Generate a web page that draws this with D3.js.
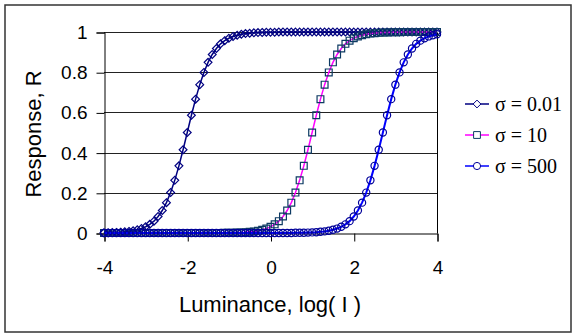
<!DOCTYPE html>
<html>
<head>
<meta charset="utf-8">
<script src="https://cdn.jsdelivr.net/npm/d3@7"></script>
<style>
	body { margin: 0; background: #fff; }
	svg { display: block; }
</style>
</head>
<body>
<div id="chart"></div>
<script>
// luminance, log(I)
var logI = [
	-4, -3.9, -3.8, -3.7, -3.6, -3.5, -3.4, -3.3, -3.2, -3.1,
	-3, -2.9, -2.8, -2.7, -2.6, -2.5, -2.4, -2.3, -2.2, -2.1,
	-2, -1.9, -1.8, -1.7, -1.6, -1.5, -1.4, -1.3, -1.2, -1.1,
	-1, -0.9, -0.8, -0.7, -0.6, -0.5, -0.4, -0.3, -0.2, -0.1,
	0, 0.1, 0.2, 0.3, 0.4, 0.5, 0.6, 0.7, 0.8, 0.9,
	1, 1.1, 1.2, 1.3, 1.4, 1.5, 1.6, 1.7, 1.8, 1.9,
	2, 2.1, 2.2, 2.3, 2.4, 2.5, 2.6, 2.7, 2.8, 2.9,
	3, 3.1, 3.2, 3.3, 3.4, 3.5, 3.6, 3.7, 3.8, 3.9,
	4
];

// response R for sigma = 0.01
var rSigma001 = [
	0.001, 0.001, 0.002, 0.003, 0.004, 0.006, 0.008, 0.011, 0.016, 0.022,
	0.031, 0.043, 0.059, 0.082, 0.112, 0.151, 0.201, 0.262, 0.334, 0.414,
	0.5, 0.586, 0.666, 0.738, 0.799, 0.849, 0.888, 0.918, 0.941, 0.957,
	0.969, 0.978, 0.984, 0.989, 0.992, 0.994, 0.996, 0.997, 0.998, 0.999,
	0.999, 0.999, 1, 1, 1, 1, 1, 1, 1, 1,
	1, 1, 1, 1, 1, 1, 1, 1, 1, 1,
	1, 1, 1, 1, 1, 1, 1, 1, 1, 1,
	1, 1, 1, 1, 1, 1, 1, 1, 1, 1,
	1
];

// response R for sigma = 10
var rSigma10 = [
	0, 0, 0, 0, 0, 0, 0, 0, 0, 0,
	0, 0, 0, 0, 0, 0, 0, 0, 0, 0,
	0, 0, 0, 0, 0, 0, 0, 0, 0, 0.001,
	0.001, 0.001, 0.002, 0.003, 0.004, 0.006, 0.008, 0.011, 0.016, 0.022,
	0.031, 0.043, 0.059, 0.082, 0.112, 0.151, 0.201, 0.262, 0.334, 0.414,
	0.5, 0.586, 0.666, 0.738, 0.799, 0.849, 0.888, 0.918, 0.941, 0.957,
	0.969, 0.978, 0.984, 0.989, 0.992, 0.994, 0.996, 0.997, 0.998, 0.999,
	0.999, 0.999, 1, 1, 1, 1, 1, 1, 1, 1,
	1
];

// response R for sigma = 500
var rSigma500 = [
	0, 0, 0, 0, 0, 0, 0, 0, 0, 0,
	0, 0, 0, 0, 0, 0, 0, 0, 0, 0,
	0, 0, 0, 0, 0, 0, 0, 0, 0, 0,
	0, 0, 0, 0, 0, 0, 0, 0, 0, 0,
	0, 0, 0, 0, 0, 0, 0.001, 0.001, 0.001, 0.002,
	0.003, 0.004, 0.006, 0.008, 0.011, 0.016, 0.022, 0.031, 0.043, 0.059,
	0.082, 0.112, 0.151, 0.201, 0.262, 0.334, 0.414, 0.5, 0.586, 0.666,
	0.738, 0.799, 0.849, 0.888, 0.918, 0.941, 0.957, 0.969, 0.978, 0.984,
	0.989
];

var seriesNames = ["\u03c3 = 0.01", "\u03c3 = 10", "\u03c3 = 500"];
var xTicks = [-4, -2, 0, 2, 4];
var yTicks = [0, 0.2, 0.4, 0.6, 0.8, 1];

var width = 574, height = 334;

var series = [
	{ name: seriesNames[0], values: rSigma001, line: "#000080", stroke: "#000080", marker: "diamond", lw: 1.5 },
	{ name: seriesNames[1], values: rSigma10, line: "#ff00ff", stroke: "#0d3a63", marker: "square", lw: 1.5 },
	{ name: seriesNames[2], values: rSigma500, line: "#0000ff", stroke: "#000099", marker: "circle", lw: 2 }
];

var x = d3.scaleLinear().domain([-4, 4]).range([104, 437]);
var y = d3.scaleLinear().domain([0, 1]).range([233, 32]);

var svg = d3.select("#chart")
  .append("svg")
    .attr("width", width)
    .attr("height", height);

// outer chart border
svg.append("rect")
    .attr("x", 5)
    .attr("y", 5)
    .attr("width", 566)
    .attr("height", 327)
    .attr("fill", "white")
    .attr("stroke", "#333")
    .attr("stroke-width", 1.5);

// gridlines
svg.append("g")
  .selectAll("line")
  .data(yTicks.slice(1))
  .join("line")
    .attr("x1", x(-4))
    .attr("x2", x(4))
    .attr("y1", function(d) { return Math.round(y(d)) + 0.5; })
    .attr("y2", function(d) { return Math.round(y(d)) + 0.5; })
    .attr("stroke", "#222")
    .attr("stroke-width", 1);

// plot area right edge
svg.append("line")
    .attr("x1", Math.round(x(4)) + 0.5)
    .attr("x2", Math.round(x(4)) + 0.5)
    .attr("y1", Math.round(y(1)) + 0.5)
    .attr("y2", Math.round(y(0)) + 0.5)
    .attr("stroke", "#000");

function plain(d) { return String(d); };

var yAxis = svg.append("g")
    .attr("transform", "translate(" + (Math.round(x(-4)) + 0.5) + ",0.5)")
    .call(d3.axisLeft(y).tickValues(yTicks).tickFormat(plain).tickSize(8).tickPadding(9));

var xAxis = svg.append("g")
    .attr("transform", "translate(0.5," + (Math.round(y(0)) + 0.5) + ")")
    .call(d3.axisBottom(x).tickValues(xTicks).tickFormat(plain).tickSize(8).tickPadding(19));

[yAxis, xAxis].forEach(function(a) {
	a.select(".domain").attr("stroke", "#000");
	a.selectAll(".tick line").attr("stroke", "#000");
	a.selectAll(".tick text")
	    .attr("fill", "#000")
	    .style("font-family", "'Liberation Sans', Arial, sans-serif")
	    .style("font-size", "19px");
});

function markerPath(type, s) {
	if(type == "diamond") {
		return "M0," + (-s) + "L" + s + ",0L0," + s + "L" + (-s) + ",0Z";
	}
	if(type == "square") {
		return "M" + (-s) + "," + (-s) + "H" + s + "V" + s + "H" + (-s) + "Z";
	}
	return "M" + (-s) + ",0A" + s + "," + s + " 0 1,0 " + s + ",0A" + s + "," + s + " 0 1,0 " + (-s) + ",0Z";
};

var markerSize = { diamond: 3.9, square: 3.4, circle: 3.6 };

var line = d3.line()
    .x(function(d, i) { return x(logI[i]); })
    .y(function(d) { return y(d); });

series.forEach(function(s) {
	var g = svg.append("g");

	g.append("path")
	    .attr("d", line(s.values))
	    .attr("fill", "none")
	    .attr("stroke", s.line)
	    .attr("stroke-width", s.lw);

	g.selectAll("path.mk")
	  .data(s.values)
	  .join("path")
	    .attr("class", "mk")
	    .attr("transform", function(d, i) {
			return "translate(" + x(logI[i]) + "," + y(d) + ")";
	    })
	    .attr("d", markerPath(s.marker, markerSize[s.marker]))
	    .attr("fill", "none")
	    .attr("stroke", s.stroke)
	    .attr("stroke-width", 1.2);
});

// axis titles
svg.append("text")
    .attr("x", 270)
    .attr("y", 312)
    .attr("text-anchor", "middle")
    .style("font-family", "'Liberation Sans', Arial, sans-serif")
    .style("font-size", "22px")
    .text("Luminance, log( I )");

svg.append("text")
    .attr("transform", "translate(41,134) rotate(-90)")
    .attr("text-anchor", "middle")
    .style("font-family", "'Liberation Sans', Arial, sans-serif")
    .style("font-size", "22px")
    .text("Response, R");

// legend
var legend = svg.append("g")
  .selectAll("g")
  .data(series)
  .join("g")
    .attr("transform", function(d, i) { return "translate(477," + (104 + i * 31) + ")"; });

legend.append("line")
    .attr("x1", -12)
    .attr("x2", 12)
    .attr("stroke", function(d) { return d.line; })
    .attr("stroke-width", 1.5);

legend.append("path")
    .attr("d", function(d) { return markerPath(d.marker, markerSize[d.marker]); })
    .attr("fill", "white")
    .attr("stroke", function(d) { return d.stroke; });

legend.append("text")
    .attr("x", 18)
    .attr("dy", "0.35em")
    .style("font-family", "'Liberation Serif', 'Times New Roman', serif")
    .style("font-size", "20px")
    .text(function(d) { return d.name; });
</script>
</body>
</html>
